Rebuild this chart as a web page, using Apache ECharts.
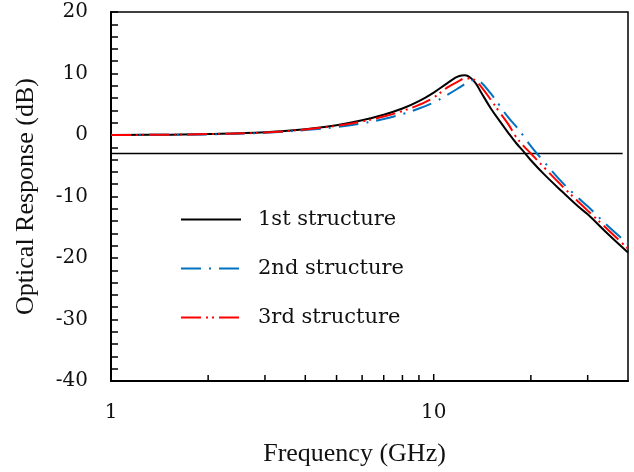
<!DOCTYPE html>
<html>
<head>
<meta charset="utf-8">
<script src="https://cdn.jsdelivr.net/npm/echarts@6/dist/echarts.min.js"></script>
<style>
  html, body { margin: 0; padding: 0; background: #fff; }
  #chart { width: 634px; height: 472px; }
</style>
</head>
<body>
<div id="chart"></div>
<script>
// frequency points (GHz)
const freq = [1, 1.5, 2, 3, 4, 5, 6, 7, 8, 9, 10, 11, 12, 12.5, 13, 13.5, 14, 15, 16, 17, 18, 19, 20, 22, 25, 28, 30, 35, 40];
// optical response (dB)
const first = [0, 0.05, 0.15, 0.45, 0.95, 1.6, 2.4, 3.3, 4.3, 5.5, 6.9, 8.4, 9.6, 9.7, 9.3, 8.4, 7.0, 4.4, 2.3, 0.4, -1.3, -2.7, -4.1, -6.4, -9.2, -11.6, -12.9, -16.3, -19.1];
const second = [0, 0.05, 0.1, 0.35, 0.8, 1.3, 1.9, 2.6, 3.4, 4.3, 5.3, 6.5, 7.7, 8.3, 8.8, 8.9, 8.6, 6.8, 4.8, 2.9, 1.4, -0.2, -1.8, -4.4, -7.7, -10.2, -11.6, -15.0, -17.7];
const third = [0, 0.05, 0.15, 0.4, 0.9, 1.5, 2.2, 3.0, 3.9, 4.9, 6.1, 7.7, 8.8, 9.2, 9.2, 8.8, 7.9, 5.8, 3.7, 1.8, -0.3, -1.8, -3.0, -5.3, -8.3, -10.8, -12.3, -15.6, -18.5];
// -3 dB reference line
const ref3dB = [[1, -3], [38.5, -3]];
// ticks on the log axis (10 is the labelled one)
const xTickFreq = [2, 3, 4, 5, 6, 7, 8, 9, 10, 20, 30];
const names = ["1st structure", "2nd structure", "3rd structure"];

const font = "DejaVu Serif";
const titleFont = "Liberation Serif";
const yMin = -40;
const pair = (ys) => freq.map((f, i) => [f, ys[i]]);

const chart = echarts.init(document.getElementById("chart"));
chart.setOption({
  animation: false,
  textStyle: { fontFamily: font },
  grid: {
    left: 111, right: 6, top: 12, bottom: 91,
    show: true, borderColor: "#000", borderWidth: 1.5, backgroundColor: "transparent"
  },
  legend: {
    orient: "vertical",
    left: 175, top: 204,
    itemWidth: 60, itemHeight: 16, itemGap: 28,
    data: names,
    itemStyle: { opacity: 0 },
    textStyle: { fontFamily: font, fontSize: 21, color: "#111", padding: [0, 0, 0, 12] }
  },
  xAxis: {
    type: "log", logBase: 10, min: 1, max: 40,
    name: "Frequency (GHz)", nameLocation: "middle", nameGap: 60,
    nameTextStyle: { fontFamily: titleFont, fontSize: 26, color: "#111", padding: [0, 30, 0, 0] },
    axisLine: { onZero: false, lineStyle: { color: "#000", width: 2 } },
    axisTick: { show: false },
    axisLabel: { margin: 22, fontFamily: font, fontSize: 20, color: "#111", showMaxLabel: false },
    splitLine: { show: false }, minorTick: { show: false }
  },
  yAxis: {
    type: "value", min: yMin, max: 20, interval: 2,
    name: "Optical Response (dB)", nameLocation: "middle", nameGap: 72,
    nameTextStyle: { fontFamily: titleFont, fontSize: 26, color: "#111" },
    axisLine: { show: true, onZero: false, lineStyle: { color: "#000", width: 2 } },
    axisTick: { inside: true, length: 7, lineStyle: { color: "#000", width: 1.5 } },
    axisLabel: {
      margin: 23, fontFamily: font, fontSize: 20, color: "#111",
      formatter: (v) => (v % 10 === 0 ? String(v) : "")
    },
    splitLine: { show: false }
  },
  series: [
    {
      name: "ref", type: "line", data: ref3dB, symbol: "none", silent: true,
      lineStyle: { color: "#000", width: 1.5 }
    },
    {
      name: names[0], type: "line", data: pair(first), symbol: "none", smooth: 0.4,
      color: "#000", lineStyle: { color: "#000", width: 2 }
    },
    {
      name: names[1], type: "line", data: pair(second), symbol: "none", smooth: 0.4,
      color: "#0070C0", lineStyle: { color: "#0070C0", width: 2, type: [20, 8, 2, 8] }
    },
    {
      name: names[2], type: "line", data: pair(third), symbol: "none", smooth: 0.4,
      color: "#FF0000", lineStyle: { color: "#FF0000", width: 2, type: [20, 5, 2, 4, 2, 5] }
    },
    {
      name: "xTicks", type: "custom", silent: true, clip: false, z: 5,
      data: xTickFreq.map(f => [f, yMin]),
      renderItem: function (params, api) {
        const p = api.coord([api.value(0), api.value(1)]);
        const len = api.value(0) === 10 ? 7 : 6;
        return {
          type: "line",
          shape: { x1: p[0], y1: p[1], x2: p[0], y2: p[1] - len },
          style: { stroke: "#000", lineWidth: 1.5 }
        };
      }
    }
  ]
});
</script>
</body>
</html>
